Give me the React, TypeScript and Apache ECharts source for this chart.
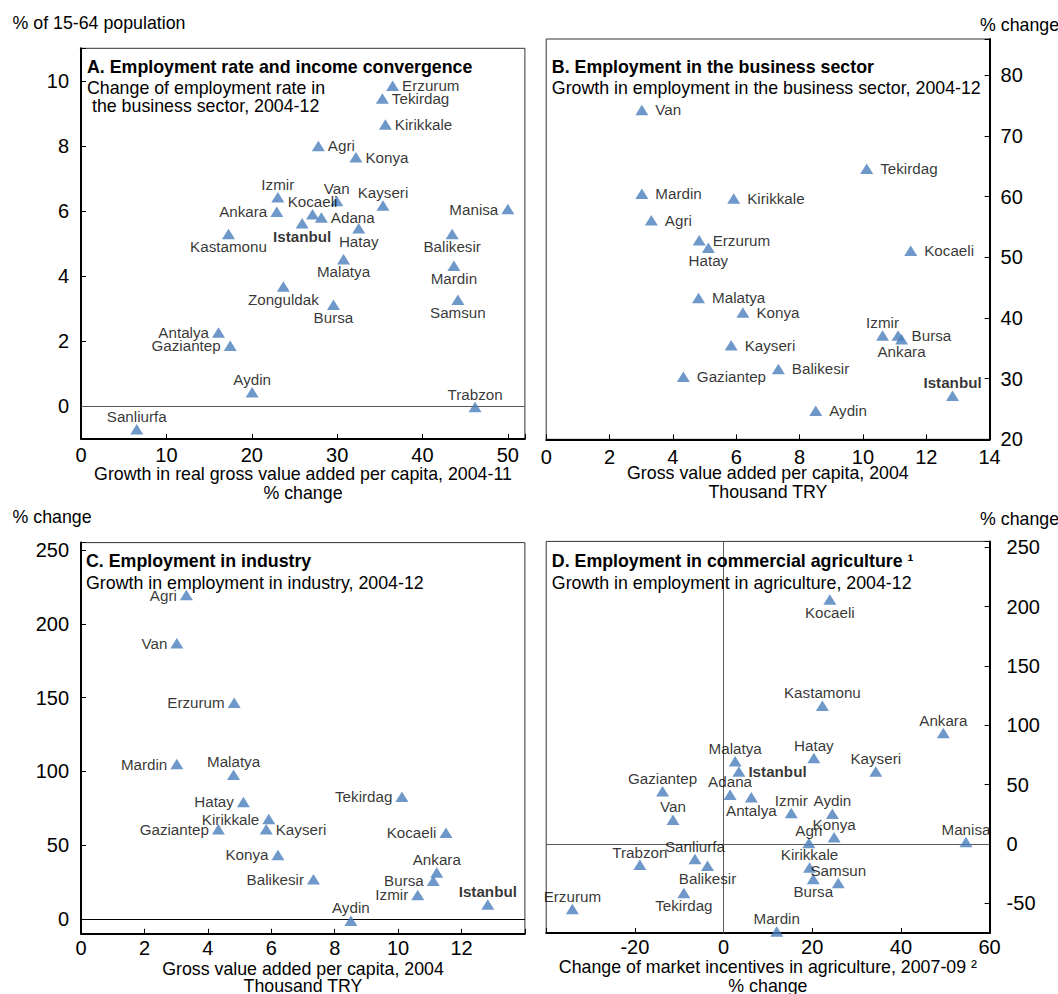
import React, { useEffect, useRef } from 'react';
import * as echarts from 'echarts';

const FONT = '"Liberation Sans", Arial, Helvetica, sans-serif';
const BLUE = '#4A7EBB';

// ---------- Panel A: employment rate vs income growth ----------
const namesA = ['Erzurum', 'Tekirdag', 'Kirikkale', 'Agri', 'Konya', 'Izmir', 'Van', 'Ankara', 'Kocaeli', 'Adana', 'Istanbul', 'Kayseri', 'Manisa', 'Hatay', 'Kastamonu', 'Balikesir', 'Malatya', 'Mardin', 'Zonguldak', 'Bursa', 'Samsun', 'Antalya', 'Gaziantep', 'Aydin', 'Trabzon', 'Sanliurfa'];
const gvaGrowthA = [36.5, 35.3, 35.65, 27.8, 32.2, 23.05, 29.96, 22.93, 27.12, 28.15, 25.9, 35.37, 50.0, 32.53, 17.27, 43.48, 30.75, 43.68, 23.7, 29.57, 44.15, 16.1, 17.47, 20.04, 46.16, 6.52];
const empRateChangeA = [9.85, 9.46, 8.66, 8.0, 7.65, 6.42, 6.31, 5.98, 5.9, 5.8, 5.62, 6.17, 6.06, 5.47, 5.29, 5.29, 4.52, 4.32, 3.68, 3.12, 3.27, 2.27, 1.86, 0.43, -0.02, -0.71];
const ticksAX = [0, 10, 20, 30, 40, 50];
const ticksAY = [0, 2, 4, 6, 8, 10];

// ---------- Panel B: business sector employment ----------
const namesB = ['Van', 'Tekirdag', 'Mardin', 'Kirikkale', 'Agri', 'Erzurum', 'Hatay', 'Kocaeli', 'Malatya', 'Konya', 'Izmir', 'Bursa', 'Ankara', 'Kayseri', 'Balikesir', 'Gaziantep', 'Istanbul', 'Aydin'];
const gvaPc2004B = [3.02, 10.12, 3.02, 5.92, 3.32, 4.83, 5.12, 11.51, 4.81, 6.21, 10.62, 11.11, 11.22, 5.84, 7.33, 4.33, 12.83, 8.51];
const empBusinessB = [74.3, 64.6, 60.5, 59.7, 56.1, 52.8, 51.6, 51.1, 43.3, 40.9, 37.1, 37.1, 36.5, 35.5, 31.6, 30.3, 27.2, 24.7];
const ticksBX = [0, 2, 4, 6, 8, 10, 12, 14];
const ticksBY = [20, 30, 40, 50, 60, 70, 80];

// ---------- Panel C: industry employment ----------
const namesC = ['Agri', 'Van', 'Erzurum', 'Mardin', 'Malatya', 'Hatay', 'Tekirdag', 'Kirikkale', 'Gaziantep', 'Kayseri', 'Kocaeli', 'Konya', 'Balikesir', 'Ankara', 'Bursa', 'Izmir', 'Istanbul', 'Aydin'];
const gvaPc2004C = [3.32, 3.02, 4.83, 3.02, 4.81, 5.12, 10.12, 5.92, 4.33, 5.84, 11.51, 6.21, 7.33, 11.22, 11.11, 10.62, 12.83, 8.51];
const empIndustryC = [219.5, 186.8, 146.5, 105, 97.8, 79.3, 82.9, 67.7, 60.8, 60.8, 58.5, 43.4, 26.9, 31.6, 26, 16.3, 9.9, -1.1];
const ticksCX = [0, 2, 4, 6, 8, 10, 12];
const ticksCY = [0, 50, 100, 150, 200, 250];

// ---------- Panel D: commercial agriculture ----------
const namesD = ['Kocaeli', 'Kastamonu', 'Ankara', 'Malatya', 'Hatay', 'Istanbul', 'Kayseri', 'Gaziantep', 'Adana', 'Antalya', 'Izmir', 'Aydin', 'Van', 'Konya', 'Agri', 'Manisa', 'Trabzon', 'Sanliurfa', 'Balikesir', 'Tekirdag', 'Erzurum', 'Kirikkale', 'Samsun', 'Bursa', 'Mardin'];
const incentivesD = [23.96, 22.29, 49.56, 2.62, 20.37, 3.46, 34.33, -13.76, 1.47, 6.27, 15.27, 24.55, -11.4, 24.94, 19.24, 54.67, -18.87, -6.45, -3.62, -8.96, -34.1, 19.39, 25.87, 20.23, 11.99];
const empAgriD = [206, 116.6, 93.6, 69.7, 72.5, 61.2, 61.2, 44.4, 41.6, 39.3, 26.1, 25.5, 20.5, 5.6, 0.8, 1.7, -17.5, -12.6, -18.3, -41.3, -54.8, -19.7, -32.9, -29.5, -73.7];
const ticksDX = [-20, 0, 20, 40, 60];
const ticksDY = [-50, 0, 50, 100, 150, 200, 250];

// label placement (layout only)
const labelPosA: Record<string, string> = {
  Erzurum: 'right', Tekirdag: 'right', Kirikkale: 'right', Agri: 'right', Konya: 'right', Izmir: 'top', Van: 'top',
  Ankara: 'left', Kocaeli: 'top', Adana: 'right', Istanbul: 'bottom', Kayseri: 'top', Manisa: 'left', Hatay: 'bottom',
  Kastamonu: 'bottom', Balikesir: 'bottom', Malatya: 'bottom', Mardin: 'bottom', Zonguldak: 'bottom', Bursa: 'bottom',
  Samsun: 'bottom', Antalya: 'left', Gaziantep: 'left', Aydin: 'top', Trabzon: 'top', Sanliurfa: 'top',
};
const labelPosB: Record<string, string> = { Hatay: 'bottom', Izmir: 'top', Ankara: 'bottom', Istanbul: 'top' };
const labelPosC: Record<string, string> = { Malatya: 'top', Kayseri: 'right', Ankara: 'top', Istanbul: 'top', Aydin: 'top' };
const labelPosD: Record<string, string> = {
  Kocaeli: 'bottom', Istanbul: 'right', Antalya: 'bottom', Balikesir: 'bottom', Tekirdag: 'bottom', Bursa: 'bottom',
};

function fmt(ticks: number[]) {
  return (v: number) => (ticks.indexOf(Math.round(v * 1000) / 1000) >= 0 ? String(v) : '');
}

function makeSeries(names: string[], xs: number[], ys: number[], pos: Record<string, string>, def: string, idx: number, dist: number, zero: any[], zeroColor: string) {
  return {
    type: 'scatter',
    xAxisIndex: idx,
    yAxisIndex: idx,
    symbol: 'triangle',
    symbolSize: [13, 10.5],
    itemStyle: { color: BLUE },
    label: { show: true, formatter: '{b}', fontSize: 15.2, fontFamily: FONT, color: '#000', distance: dist },
    data: names.map((n, i) => {
      const p = pos[n] || def;
      return {
        name: n,
        value: [xs[i], ys[i]],
        label: {
          position: p,
          fontWeight: n === 'Istanbul' ? 'bold' : 'normal',
          distance: p === 'top' || p === 'bottom' ? 0 : dist,
        },
      };
    }),
    markLine: {
      silent: true,
      symbol: 'none',
      label: { show: false },
      lineStyle: { color: zeroColor, type: 'solid', width: 1 },
      data: zero,
      z: 1,
    },
    z: 3,
  };
}

const nameStyle = { fontSize: 17.8, fontFamily: FONT, color: '#000', lineHeight: 19.3 };

const axisCommon = {
  type: 'value',
  splitLine: { show: false },
  axisTick: { show: true, inside: true, length: 5, lineStyle: { color: '#000' } },
  axisLine: { show: true, onZero: false, lineStyle: { color: '#000', width: 2 } },
  nameTextStyle: nameStyle,
  nameLocation: 'middle',
  nameMoveOverlap: false,
};

function lbl(ticks: number[], margin: number) {
  return { formatter: fmt(ticks), fontSize: 20, fontFamily: FONT, color: '#000', margin, showMinLabel: true, showMaxLabel: true, hideOverlap: false };
}

const txt = { fontSize: 17.8, fontFamily: FONT, color: '#000', fontWeight: 'normal', lineHeight: 20 };

export default function App() {
  const ref = useRef<HTMLDivElement>(null);
  useEffect(() => {
    if (!ref.current) return;
    const chart = echarts.init(ref.current, undefined, { renderer: 'svg' });
    const panelTitle = (t: string, s: string, left: number, top: number) => ({
      text: t,
      subtext: s,
      left,
      top,
      padding: 0,
      itemGap: 2,
      textStyle: { ...txt, fontWeight: 'bold' },
      subtextStyle: { ...txt, lineHeight: 18.3 },
    });
    const gridStyle = { show: true, borderColor: '#333', borderWidth: 1, backgroundColor: 'transparent', containLabel: false, outerBoundsMode: 'none' };
    chart.setOption({
      animation: false,
      backgroundColor: '#fff',
      textStyle: { fontFamily: FONT },
      title: [
        { text: '% of 15-64 population', left: 12.5, top: 13.3, padding: 0, textStyle: txt },
        { text: '% change', left: 980, top: 14.6, padding: 0, textStyle: txt },
        { text: '% change', left: 12.5, top: 507.2, padding: 0, textStyle: txt },
        { text: '% change', left: 980, top: 509, padding: 0, textStyle: txt },
        panelTitle('A. Employment rate and income convergence', 'Change of employment rate in\n the business sector, 2004-12', 87, 57),
        panelTitle('B. Employment in the business sector', 'Growth in employment in the business sector, 2004-12', 551.8, 57),
        panelTitle('C. Employment in industry', 'Growth in employment in industry, 2004-12', 86, 551.4),
        panelTitle('D. Employment in commercial agriculture \u00B9', 'Growth in employment in agriculture, 2004-12', 551.8, 551.4),
      ],
      grid: [
        { left: 81.1, top: 48.3, width: 443.8, height: 390.5, ...gridStyle },
        { left: 546.2, top: 39, width: 443.4, height: 400.3, ...gridStyle },
        { left: 81.1, top: 542.6, width: 443.8, height: 391.2, ...gridStyle },
        { left: 546.2, top: 541.4, width: 443.4, height: 391.6, ...gridStyle },
      ],
      xAxis: [
        { ...axisCommon, gridIndex: 0, min: 0, max: 52, interval: 10, axisLabel: lbl(ticksAX, 6), name: 'Growth in real gross value added per capita, 2004-11\n% change', nameGap: 25.2 },
        { ...axisCommon, gridIndex: 1, min: 0, max: 14, interval: 2, axisLabel: lbl(ticksBX, 7.4), name: 'Gross value added per capita, 2004\nThousand TRY', nameGap: 24.1 },
        { ...axisCommon, gridIndex: 2, min: 0, max: 14, interval: 2, axisLabel: lbl(ticksCX, 4), name: 'Gross value added per capita, 2004\nThousand TRY', nameGap: 26.6, nameTextStyle: { ...nameStyle, lineHeight: 17.3 } },
        { ...axisCommon, gridIndex: 3, min: -40, max: 60, interval: 20, axisLabel: lbl(ticksDX, 4), name: 'Change of market incentives in agriculture, 2007-09 \u00B2\n% change', nameGap: 25.3, nameTextStyle: { ...nameStyle, lineHeight: 18.3 } },
      ],
      yAxis: [
        { ...axisCommon, gridIndex: 0, min: -1, max: 11, splitNumber: 6, axisLabel: lbl(ticksAY, 12) },
        { ...axisCommon, gridIndex: 1, position: 'right', min: 20, max: 86, interval: 10, axisLabel: lbl(ticksBY, 11) },
        { ...axisCommon, gridIndex: 2, min: -10, max: 255, splitNumber: 5, axisLabel: lbl(ticksCY, 12) },
        { ...axisCommon, gridIndex: 3, position: 'right', min: -75, max: 255, splitNumber: 7, axisLabel: lbl(ticksDY, 17) },
      ],
      series: [
        makeSeries(namesA, gvaGrowthA, empRateChangeA, labelPosA, 'right', 0, 3, [{ yAxis: 0 }], '#595959'),
        makeSeries(namesB, gvaPc2004B, empBusinessB, labelPosB, 'right', 1, 7, [], '#595959'),
        makeSeries(namesC, gvaPc2004C, empIndustryC, labelPosC, 'left', 2, 3, [{ yAxis: 0 }], '#000'),
        makeSeries(namesD, incentivesD, empAgriD, labelPosD, 'top', 3, 3, [{ yAxis: 0 }, { xAxis: 0 }], '#595959'),
      ],
    });
    return () => chart.dispose();
  }, []);
  return <div ref={ref} style={{ position: 'absolute', left: 0, top: 0, width: 1058, height: 994, background: '#fff' }} />;
}
